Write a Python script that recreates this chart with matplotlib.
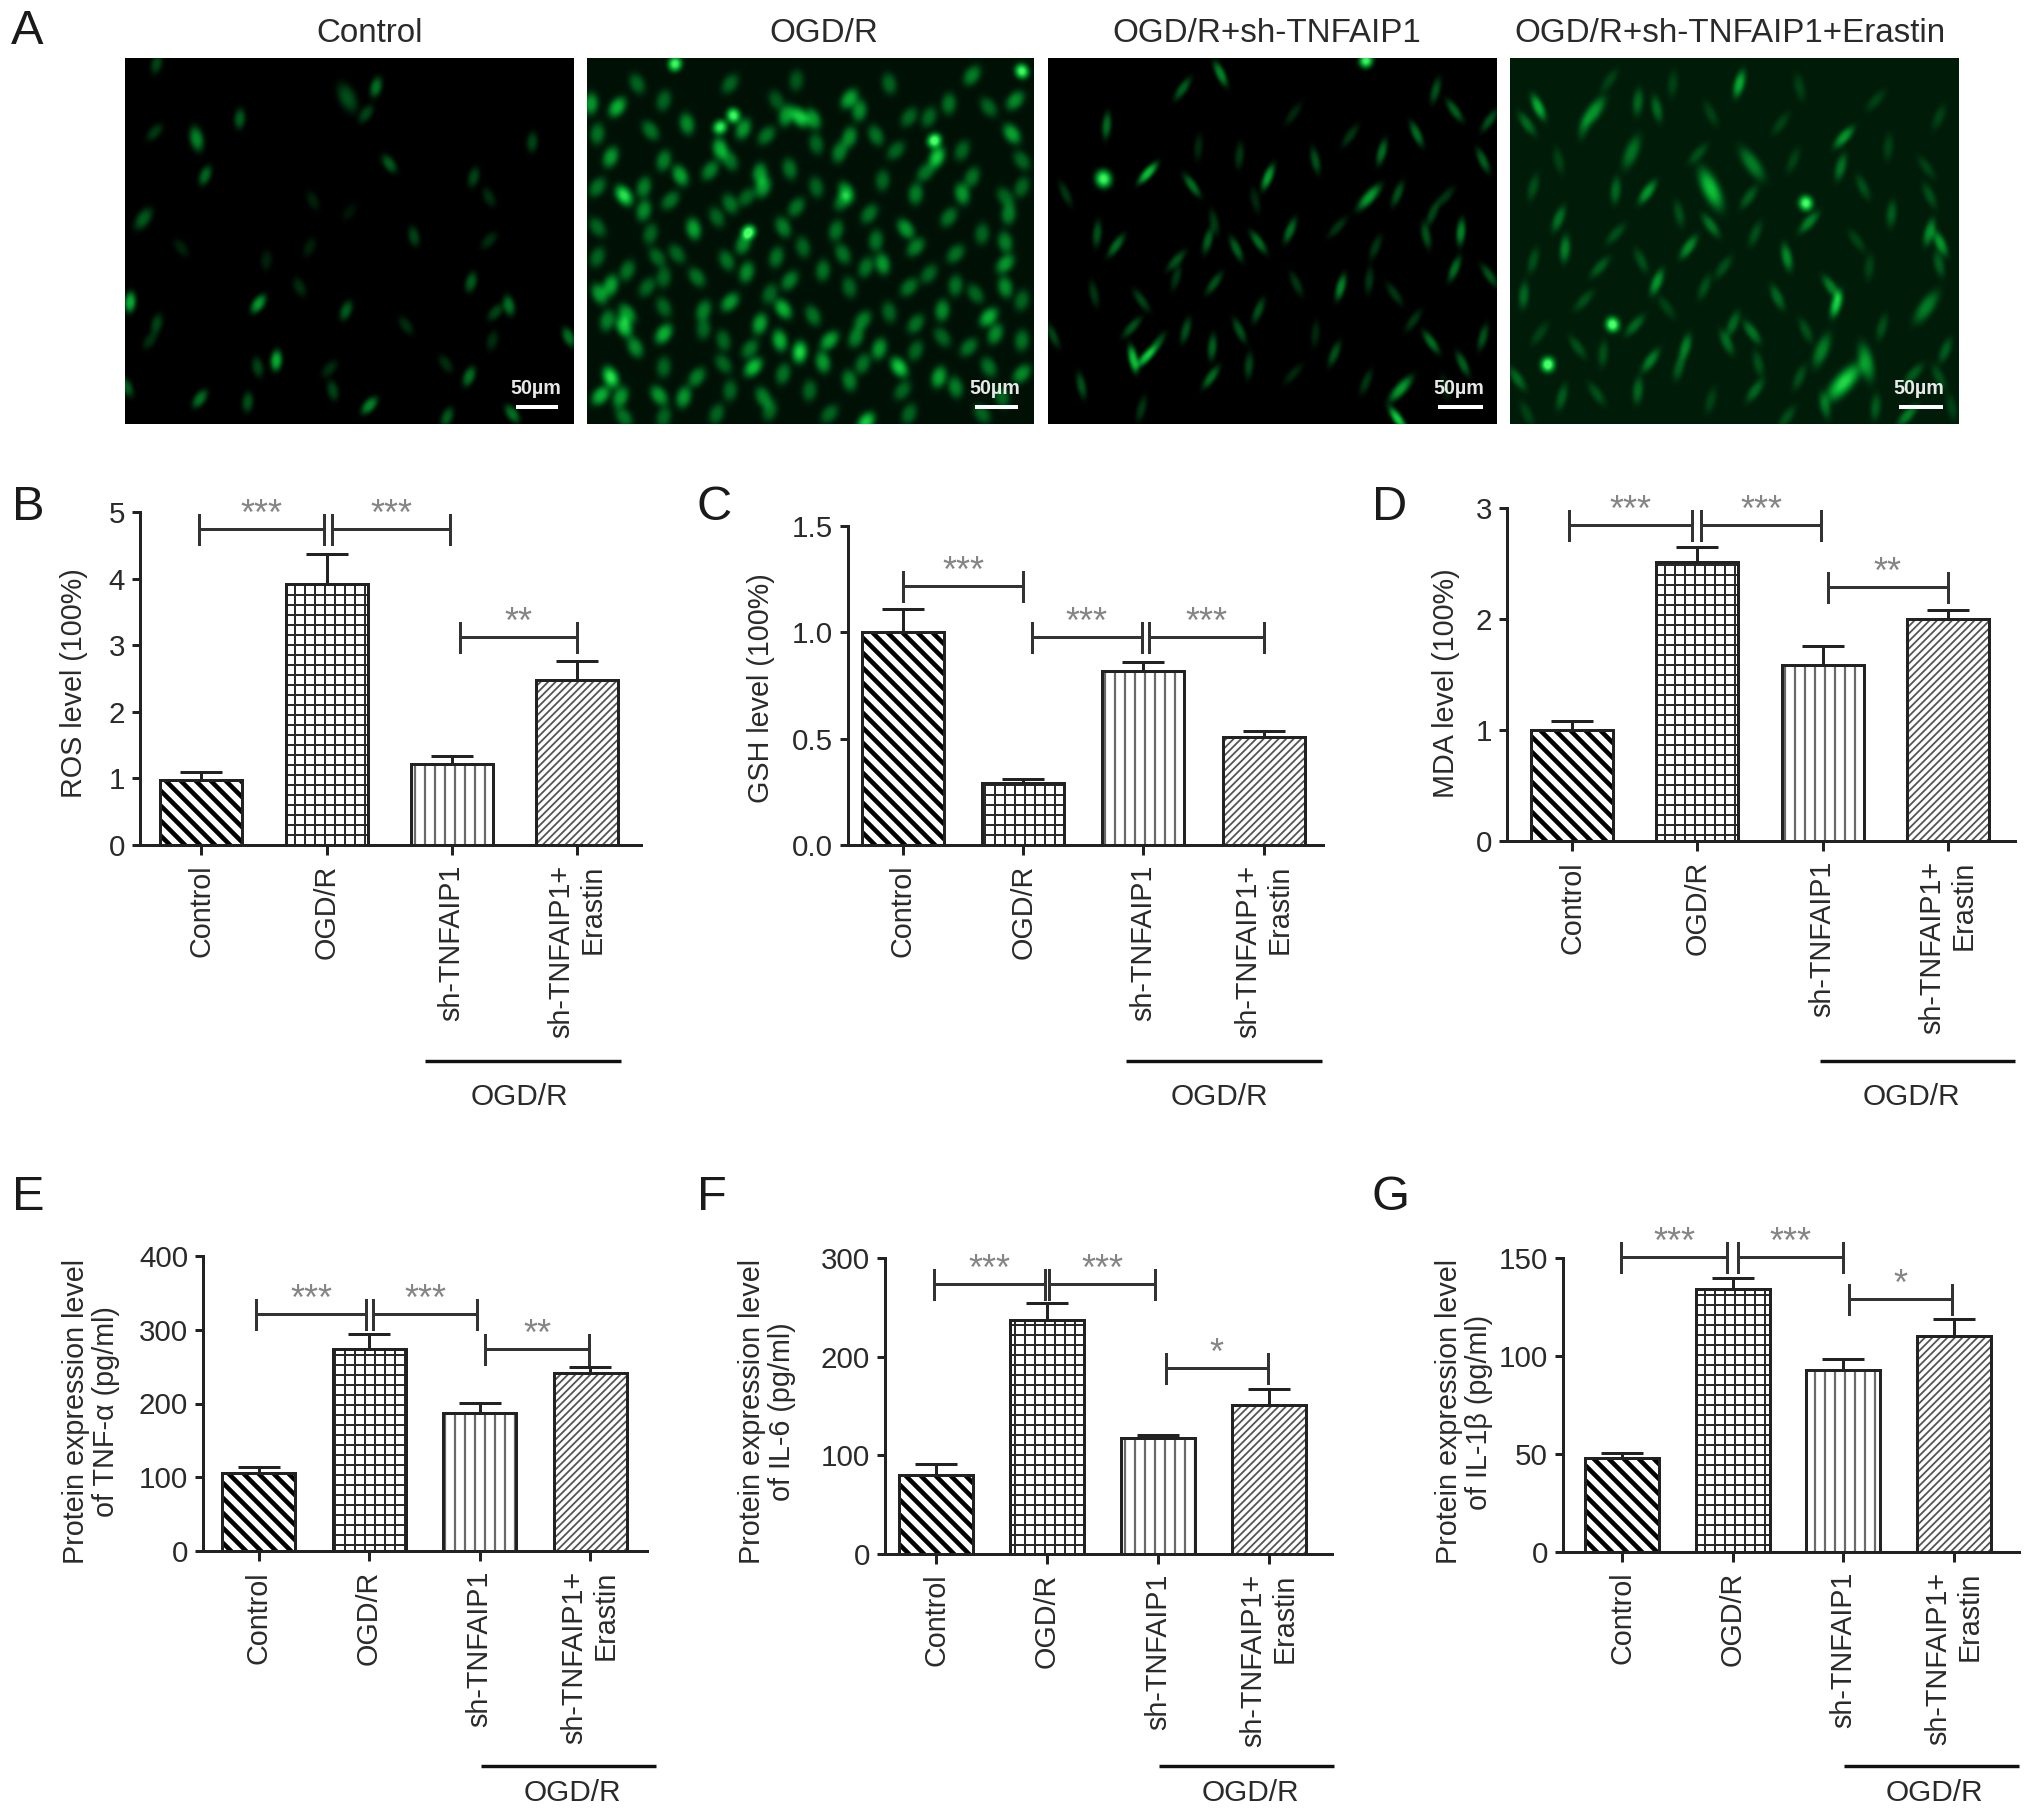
import numpy as np
import matplotlib as mpl
mpl.use("Agg")
import matplotlib.pyplot as plt
from matplotlib.colors import LinearSegmentedColormap
from matplotlib.lines import Line2D
from matplotlib.transforms import Affine2D

W, H, DPI = 2032, 1816, 180
P = 72 / DPI
plt.rcParams['font.family'] = ['Liberation Sans', 'DejaVu Sans']
plt.rcParams['text.color'] = '#2a2a2a'

groups = ['Control', 'OGD/R', 'sh-TNFAIP1', 'sh-TNFAIP1+\nErastin']
ros = [0.98, 3.92, 1.21, 2.48]
ros_top = [1.09, 4.37, 1.34, 2.76]
gsh = [1.0, 0.29, 0.817, 0.51]
gsh_top = [1.11, 0.31, 0.86, 0.537]
mda = [1.0, 2.51, 1.59, 2.0]
mda_top = [1.085, 2.65, 1.76, 2.08]
tnf = [105.6, 274, 186.6, 241]
tnf_top = [114, 294, 201, 250]
il6 = [80, 237, 118, 151]
il6_top = [91, 254, 121, 167]
il1 = [48, 134, 93, 110]
il1_top = [50.5, 140, 98.5, 119]

ros_brackets = [(-0.02, 0.98, 4.75, '***'), (1.04, 1.99, 4.75, '***'), (2.07, 3.0, 3.12, '**')]
gsh_brackets = [(0.0, 1.0, 1.22, '***'), (1.07, 1.99, 0.98, '***'), (2.05, 3.0, 0.98, '***')]
mda_brackets = [(-0.02, 0.96, 2.85, '***'), (1.03, 1.99, 2.85, '***'), (2.04, 3.0, 2.29, '**')]
tnf_brackets = [(-0.02, 0.97, 322, '***'), (1.04, 1.98, 322, '***'), (2.05, 2.99, 274, '**')]
il6_brackets = [(-0.02, 0.98, 274, '***'), (1.02, 1.97, 274, '***'), (2.07, 2.99, 189, '*')]
il1_brackets = [(-0.01, 0.95, 150.6, '***'), (1.05, 2.0, 150.6, '***'), (2.05, 2.98, 129, '*')]

ros_ticks = [0, 1, 2, 3, 4, 5]
gsh_ticks = [0.0, 0.5, 1.0, 1.5]
mda_ticks = [0, 1, 2, 3]
tnf_ticks = [0, 100, 200, 300, 400]
il6_ticks = [0, 100, 200, 300]
il1_ticks = [0, 50, 100, 150]

image_titles = ['Control', 'OGD/R', 'OGD/R+sh-TNFAIP1', 'OGD/R+sh-TNFAIP1+Erastin']

cells_control = [(565,260,.5),(522,292,.35,1.5),(550,340,.3),(360,355,.4),(295,415,.6,1.2),(232,395,.25),(308,525,.45),
 (585,490,.4),(712,530,.3),(735,590,.2),(215,655,.4,1.2),(800,425,.3),(622,708,.3),(735,720,.2),(465,740,.15),(272,742,.15),
 (708,845,.4),(450,860,.2),(388,910,.7),(195,905,.8),(765,915,.5),(745,935,.3),(520,930,.4),(610,975,.2),(235,970,.3),
 (855,1010,.5),(225,1020,.2),(415,1080,.8),(387,1100,.3),(495,1105,.2),(705,1128,.5),(670,1090,.2),(740,1020,.2),(190,1160,.4),
 (300,1195,.5),(372,1205,.35),(500,1170,.3),(555,1215,.6),(672,1250,.4),(770,1240,.5),(235,190,.3),(470,600,.15),(525,635,.1),(400,780,.15)]
cells_ogd = [(1017,190,.9),(1540,212,.9),(930,320,.6),(890,310,.5),(1105,345,.9),(1085,380,.85),(1120,385,.5),(1205,350,.7),
 (1185,345,.5),(1225,355,.5),(1280,295,.55),(1295,330,.45),(1035,370,.45),(1408,420,.98),(1412,470,.7),(1525,400,.55),(1280,410,.45),
 (1320,405,.35),(1465,225,.4),(1430,310,.35),(1085,445,.6),(1155,405,.35),(920,470,.5),(980,390,.35),(1265,455,.4),(1025,525,.55),
 (1070,510,.4),(1145,520,.5),(1190,505,.35),(1125,590,.3),(1150,560,.5),(940,585,.8),(970,560,.4),(1275,575,.5),(1270,600,.4),
 (1380,580,.4),(1450,580,.5),(1395,515,.35),(1465,530,.35),(1515,590,.3),(970,630,.45),(1100,610,.35),(1200,620,.35),(1520,640,.4),
 (1045,685,.55),(1128,695,.98),(1120,730,.45),(1365,685,.5),(1260,690,.35),(1180,680,.4),(1310,640,.35),(1480,700,.3),(1515,725,.4),
 (1380,740,.4),(945,810,.35),(1050,830,.35),(1125,815,.45),(1095,780,.35),(1190,840,.4),(1240,810,.35),(1330,790,.5),(1515,790,.5),
 (1305,800,.35),(990,770,.3),(920,855,.55),(903,880,.5),(975,860,.3),(1440,855,.35),(1515,860,.45),(1100,905,.5),(1060,930,.4),
 (1180,925,.6),(1145,970,.55),(1225,945,.35),(1300,960,.4),(1420,930,.45),(1340,935,.3),(1490,950,.6),(1500,1000,.45),(945,940,.5),
 (915,960,.4),(940,978,.7),(1000,1000,.6),(1060,985,.3),(1175,1020,.6),(1250,1020,.55),(1290,1010,.4),(1420,1010,.3),(1325,1045,.5),
 (957,1040,.45),(1130,1045,.35),(1205,1055,.75),(1240,1085,.5),(1135,1100,.65),(1300,1090,.35),(1355,1100,.7),(1415,1130,.55),
 (920,1130,.8),(1050,1130,.4),(1000,1100,.3),(1280,1140,.4),(905,1185,.6),(935,1190,.5),(993,1185,.5),(1030,1190,.5),(1150,1190,.4),
 (1305,1265,.7),(1220,1170,.3),(1440,1160,.4),(1540,1120,.45),(1080,1240,.3),(940,1250,.35),(1160,1230,.3),
 (960,250,.3),(1100,250,.3),(1200,240,.25),(1340,250,.3),(1530,300,.45),(1400,350,.3),(1490,320,.3),(1000,300,.3),(1170,300,.25),
 (1370,350,.3),(900,400,.35),(1230,430,.3),(1350,450,.3),(1450,450,.3),(1540,480,.3),(1000,480,.4),(1100,480,.35),(900,560,.35),
 (1330,540,.3),(1230,560,.3),(1010,600,.35),(1540,560,.3),(900,680,.3),(980,700,.3),(1080,650,.3),(1430,650,.35),(1320,720,.35),
 (1210,740,.3),(1440,760,.35),(900,770,.3),(1020,760,.3),(1170,770,.35),(1270,760,.35),(1400,820,.3),(1000,830,.3),(1280,860,.3),
 (1370,860,.35),(1160,880,.3),(1470,880,.3),(1540,900,.3),(1000,920,.3),(1380,970,.35),(1540,1020,.35),(1090,1020,.3),(1460,1040,.35),
 (1380,1050,.3),(1090,1090,.3),(1180,1120,.35),(1490,1100,.35),(1360,1170,.3),(1100,1170,.3),(1510,1190,.3),(1250,1240,.3),
 (1370,1240,.3),(1480,1240,.3),(1000,1250,.3)]
cells_sh = [(515,180,.95),(285,220,.5),(225,265,.35),(105,375,.4),(100,535,.95,1.2),(170,518,.75),(360,530,.6),(240,555,.4),(540,455,.4),
 (595,400,.4),(490,405,.2),(315,465,.2),(435,480,.3),(520,590,.6,1.2),(565,580,.3),(655,330,.35),(625,270,.3),(700,480,.35),(710,360,.3),
 (665,695,.5),(610,705,.3),(640,590,.2),(395,690,.4),(345,725,.4),(265,720,.35),(310,745,.35),(120,735,.4),(90,700,.3),(275,665,.2),
 (215,780,.3),(655,805,.4),(710,825,.3),(475,860,.5),(405,850,.2),(275,848,.3),(520,840,.2),(85,880,.2),(145,980,.3),(345,930,.3),
 (560,880,.2),(230,990,.3),(315,990,.3),(185,1030,.3),(272,1040,.35),(147,1075,.75),(168,1068,.75),(465,1060,.3),(618,1025,.4),
 (700,1010,.3),(668,1090,.35),(270,1130,.4),(330,1095,.25),(65,1155,.3),(570,1165,.6,1.2),(515,1145,.2),(565,1255,.8),(160,1225,.2),(20,1005,.25),
 (400,340,.15),(250,440,.15),(340,600,.15),(470,680,.2),(530,740,.2),(160,900,.25),(215,830,.2),(40,580,.2),(590,960,.2),(435,1000,.15),
 (640,1160,.15),(400,1120,.15),(620,640,.25)]
cells_era = [(1105,250,.6),(788,320,.6),(875,335,.5,1.3),(945,305,.3),(975,325,.3),(1270,410,.5),(935,455,.35,1.3),(1125,490,.4,1.4),
 (1265,500,.35),(1060,565,.7,1.6),(960,575,.5),(910,570,.3),(1210,608,.9),(1215,665,.4),(820,655,.35),(1060,675,.35),(1405,695,.45),
 (1422,728,.5),(1025,740,.45),(830,745,.4),(1180,770,.45),(885,800,.25),(975,845,.5),(1250,860,.4),(1258,910,.75),(1165,890,.3),
 (1400,920,.4,1.4),(765,885,.3),(905,972,.95),(940,975,.3),(1095,970,.3),(1125,995,.35),(1020,1040,.4),(1085,1025,.3),(965,1080,.4),
 (803,1092,.98),(1305,1085,.5,1.4),(1270,1145,.8,1.7),(1235,1050,.4,1.3),(755,1135,.3),(1010,1100,.25),(1420,1130,.2),(1130,1170,.3),
 (945,1170,.3),(1240,1215,.3),(1370,1245,.4),(1430,1050,.25),(850,1040,.2),(825,1190,.25),(1405,585,.2),
 (900,240,.15),(1000,250,.15),(1200,260,.15),(1320,300,.15),(1420,350,.15),(770,370,.3),(860,380,.2),(1060,340,.15),(1170,370,.15),
 (1340,440,.15),(820,480,.15),(1040,460,.2),(1190,480,.15),(1400,500,.15),(780,560,.2),(1300,560,.2),(1120,590,.25),(1345,640,.25),
 (1010,640,.2),(910,700,.2),(1130,700,.2),(1290,720,.15),(780,780,.2),(950,780,.2),(1080,800,.2),(1310,800,.15),(1420,790,.25),
 (860,900,.2),(1050,860,.2),(990,920,.15),(1330,980,.2),(1210,990,.2),(790,1000,.15),(890,1060,.2),(1135,1090,.2),(1380,1120,.25),
 (1200,1130,.2),(880,1180,.2),(1060,1200,.15),(770,1240,.15),(1180,1250,.2),(1320,1220,.25),(1440,1220,.15)]

fig = plt.figure(figsize=(W / DPI, H / DPI), dpi=DPI, facecolor='white')
px = Affine2D().scale(1 / W, -1 / H).translate(0, 1) + fig.transFigure


def rect(x0, x1, y0, y1):
    return [x0 / W, 1 - y1 / H, (x1 - x0) / W, (y1 - y0) / H]


# ---- micrographs
green = LinearSegmentedColormap.from_list('gfp', [(0, (0, 0, 0)), (.3, (0, .33, .1)), (.7, (.04, .72, .2)), (1, (.3, 1, .42))])
image_layout = [
    (125, 573, 188, 1.508, 0, cells_control, 0.0, 536, 516, 558, 370, (4.2, 7.5), .8),
    (587, 1034, 885, 1.508, 0, cells_ogd, 0.06, 995, 975, 1018, 824, (5.5, 8.0), 1.0),
    (1048, 1497, 13, 1.581, 1040, cells_sh, 0.0, 1459, 1438, 1483, 1267, (3.4, 9.5), .95),
    (1510, 1958, 744, 1.581, 1040, cells_era, 0.10, 1919, 1899, 1943, 1730, (3.8, 9.5), .9),
]
tilts = [15, -25, 35, 5, -12, 42, 22, -35]
for i, (x0, x1, zx0, zs, off, cells, bg, tx, b0, b1, title_x, shape, gain) in enumerate(image_layout):
    ax = fig.add_axes(rect(x0, x1, 58, 424))
    h, w = 366, int(x1 - x0)
    yy, xx = np.mgrid[0:h, 0:w]
    img = np.full((h, w), float(bg))
    for k, c in enumerate(cells):
        s = c[3] if len(c) > 3 else 1.0
        cx = (c[0] - zx0) / zs
        cy = c[1] / 3 - 58
        dx, dy = xx - cx, yy - cy
        tilt = np.deg2rad(tilts[k % len(tilts)])
        u = dx * np.cos(tilt) + dy * np.sin(tilt)
        v = -dx * np.sin(tilt) + dy * np.cos(tilt)
        sa, sb = (shape[0] * s, shape[1] * s) if c[2] < .85 else (5 * s, 5.5 * s)
        amp = c[2] * gain if c[2] < .85 else c[2]
        img += amp * np.exp(-.5 * ((u / sa) ** 2 + (v / sb) ** 2) ** 1.3)
    ax.imshow(np.clip(img, 0, 1), cmap=green, vmin=0, vmax=1, aspect='auto', interpolation='bilinear')
    ax.set_axis_off()
    fig.text(title_x, 34, image_titles[i], transform=px, fontsize=13.25, ha='center', va='center')
    fig.text(tx, 388, '50µm', transform=px, fontsize=7.9, color='#e8e8e8', weight='bold', ha='center', va='center')
    fig.add_artist(Line2D([b0, b1], [407, 407], transform=px, color='white', lw=4 * P, solid_capstyle='butt'))

# ---- bar panels
hatches = [('\\\\\\\\', '#000000', 4.6), ('+++', '#2a2a2a', 2.0), ('|||', '#6a6a6a', 2.2), ('////////', '#555555', 1.8)]

panels = [
    dict(vals=ros, tops=ros_top, br=ros_brackets, ticks=ros_ticks, fmt='{:d}', ylabel='ROS level (100%)',
         yax=140, y0=845, yt=512, cs=[201.4, 326.5, 451.4, 576.8], bw=82, right=641, lab=(74, 683),
         grp=(425, 621, 1061), grpt=(519, 1097), let=(28, 507)),
    dict(vals=gsh, tops=gsh_top, br=gsh_brackets, ticks=gsh_ticks, fmt='{:.1f}', ylabel='GSH level (100%)',
         yax=848, y0=845, yt=526, cs=[903, 1024, 1144, 1263.6], bw=82, right=1323, lab=(761, 688),
         grp=(1126, 1322, 1061), grpt=(1219, 1097), let=(714, 507)),
    dict(vals=mda, tops=mda_top, br=mda_brackets, ticks=mda_ticks, fmt='{:d}', ylabel='MDA level (100%)',
         yax=1507, y0=841, yt=508, cs=[1572, 1698, 1822, 1948], bw=82, right=2015, lab=(1446, 683),
         grp=(1820, 2015, 1061), grpt=(1911, 1097), let=(1390, 507)),
    dict(vals=tnf, tops=tnf_top, br=tnf_brackets, ticks=tnf_ticks, fmt='{:d}',
         ylabel='Protein expression level\nof TNF-α (pg/ml)',
         yax=203, y0=1551, yt=1256, cs=[258.5, 369, 479.6, 590], bw=73, right=647, lab=(91, 1412),
         grp=(481, 656, 1766), grpt=(572, 1793), let=(28, 1198)),
    dict(vals=il6, tops=il6_top, br=il6_brackets, ticks=il6_ticks, fmt='{:d}',
         ylabel='Protein expression level\nof IL-6 (pg/ml)',
         yax=885, y0=1554, yt=1258, cs=[936, 1047, 1157, 1269], bw=74, right=1332, lab=(767, 1412),
         grp=(1159, 1334, 1766), grpt=(1250, 1793), let=(712, 1198)),
    dict(vals=il1, tops=il1_top, br=il1_brackets, ticks=il1_ticks, fmt='{:d}',
         ylabel='Protein expression level\nof IL-1β (pg/ml)',
         yax=1563, y0=1552, yt=1258, cs=[1622, 1734, 1844, 1954], bw=74, right=2019, lab=(1464, 1412),
         grp=(1844, 2019, 1766), grpt=(1934, 1793), let=(1391, 1198)),
]
letters = ['B', 'C', 'D', 'E', 'F', 'G']
fig.text(27, 32, 'A', transform=px, fontsize=19.5, ha='center', va='center', color='#1a1a1a')

axis_c = '#222222'
FS = 11.5
for p, letter in zip(panels, letters):
    ymax = p['ticks'][-1]
    ax = fig.add_axes(rect(p['yax'], p['right'], p['yt'], p['y0']))
    ax.patch.set_alpha(0)
    cs = np.array(p['cs'], float)
    unit = (cs[3] - cs[0]) / 3
    ax.set_xlim((p['yax'] - cs[0]) / unit, (p['right'] - cs[0]) / unit)
    ax.set_ylim(0, ymax)
    idx = np.arange(4)
    width = p['bw'] / unit
    for i, (hp, col, lw) in enumerate(hatches):
        b = ax.bar(idx[i], p['vals'][i], width=width, facecolor='white', edgecolor=col, linewidth=0, hatch=hp)[0]
        orig = b.draw

        def draw(renderer, _o=orig, _lw=lw):
            with mpl.rc_context({'hatch.linewidth': _lw * P}):
                return _o(renderer)
        b.draw = draw
        if hasattr(b, 'set_hatch_linewidth'):
            b.set_hatch_linewidth(lw * P)
        ax.bar(idx[i], p['vals'][i], width=width, facecolor='none', edgecolor=axis_c, linewidth=3.0 * P, zorder=3)
    ax.errorbar(idx, p['vals'], yerr=[np.zeros(4), np.array(p['tops']) - np.array(p['vals'])], fmt='none',
                ecolor=axis_c, elinewidth=3.0 * P, capsize=21 * P, capthick=3.0 * P, zorder=2, clip_on=False)
    cap = 15 / (p['y0'] - p['yt']) * ymax
    for a, b_, y, star in p['br']:
        ax.plot([a, a, a, b_, b_, b_], [y - cap, y + cap, y, y, y + cap, y - cap], color='#333333', lw=3.0 * P,
                clip_on=False, solid_joinstyle='miter', zorder=4)
        ax.annotate(star, xy=((a + b_) / 2, y), xytext=(0, 4 * P), textcoords='offset points', fontsize=14.5,
                    color='#858585', ha='center', va='baseline', annotation_clip=False)
    for s in ('top', 'right'):
        ax.spines[s].set_visible(False)
    for s in ('left', 'bottom'):
        ax.spines[s].set_linewidth(3.0 * P)
        ax.spines[s].set_color(axis_c)
        ax.spines[s].set_zorder(5)
    ax.set_xticks(idx)
    ax.set_xticklabels(groups, rotation=90, ha='center', va='top', multialignment='right', linespacing=1.15)
    ax.set_yticks(p['ticks'])
    ax.set_yticklabels([p['fmt'].format(t) for t in p['ticks']])
    ax.tick_params(axis='x', length=10 * P, width=3.0 * P, color=axis_c, pad=10 * P, labelsize=FS, labelcolor='#2a2a2a')
    ax.tick_params(axis='y', length=8 * P, width=3.0 * P, color=axis_c, pad=7 * P, labelsize=11.8, labelcolor='#2a2a2a')
    ax.set_ylabel(p['ylabel'], fontsize=FS, ha='center', va='center', linespacing=1.1, color='#2a2a2a')
    ax.yaxis.set_label_coords(p['lab'][0], p['lab'][1], transform=px)
    g0, g1, gy = p['grp']
    fig.add_artist(Line2D([g0, g1], [gy, gy], transform=px, color='#111111', lw=3.4 * P, solid_capstyle='butt'))
    fig.text(p['grpt'][0], p['grpt'][1], 'OGD/R', transform=px, fontsize=11.9, ha='center', va='center')
    fig.text(p['let'][0], p['let'][1], letter, transform=px, fontsize=19.5, ha='center', va='center', color='#1a1a1a')

fig.savefig('out.png', dpi=DPI)
